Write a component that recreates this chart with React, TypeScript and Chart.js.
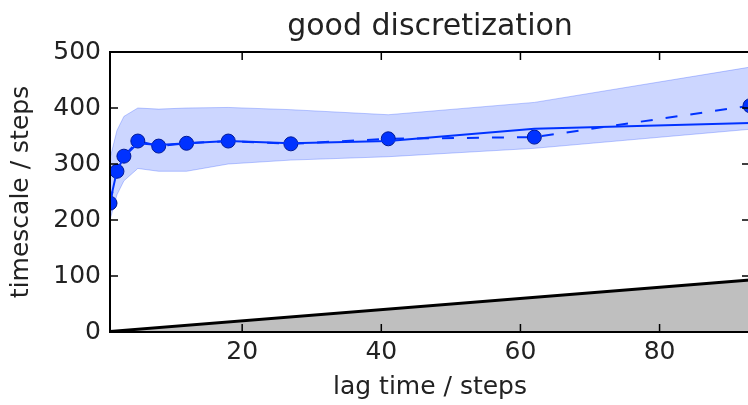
import React, { useEffect, useRef } from "react";
import { Chart, registerables } from "chart.js";

Chart.register(...registerables);

// ---- data ----
const lagTimes = [1, 2, 3, 5, 8, 12, 18, 27, 41, 62, 93];
const sampleTimescales = [230, 287, 314, 341, 332, 337, 341, 336, 345, 348, 404];
const mlTimescales = [232, 288, 313, 337, 334, 337, 341, 337, 341, 363, 373];
const confUpper = [310, 360, 385, 400, 398, 400, 401, 397, 388, 410, 473];
const confLower = [200, 245, 270, 292, 287, 287, 300, 307, 313, 328, 362];
const identityX = [1, 93];
const identityY = [1, 93];
const xTickValues = [20, 40, 60, 80];
const yTickValues = [0, 100, 200, 300, 400, 500];

const titleText = "good discretization";
const xLabel = "lag time / steps";
const yLabel = "timescale / steps";

const BLUE = "#0033ff";
const FONT = "DejaVu Sans";
const TEXT = "#222222";

const pts = (xs: number[], ys: number[]) => xs.map((x, i) => ({ x, y: ys[i] }));

const framePlugin = {
  id: "frame",
  afterDatasetsDraw(chart: any) {
    const { ctx, chartArea: a, scales } = chart;
    ctx.save();
    ctx.strokeStyle = "#000";
    ctx.lineWidth = 1.5;
    ctx.beginPath();
    for (const v of xTickValues) {
      const px = scales.x.getPixelForValue(v);
      ctx.moveTo(px, a.bottom);
      ctx.lineTo(px, a.bottom - 8);
      ctx.moveTo(px, a.top);
      ctx.lineTo(px, a.top + 8);
    }
    for (const v of yTickValues) {
      const py = scales.y.getPixelForValue(v);
      ctx.moveTo(a.left, py);
      ctx.lineTo(a.left + 8, py);
      ctx.moveTo(a.right, py);
      ctx.lineTo(a.right - 8, py);
    }
    ctx.stroke();
    ctx.lineWidth = 2;
    ctx.strokeRect(a.left, a.top, a.right - a.left, a.bottom - a.top);
    ctx.restore();
  },
};

export default function App() {
  const ref = useRef<HTMLCanvasElement | null>(null);

  useEffect(() => {
    if (!ref.current) return;
    const chart = new Chart(ref.current, {
      type: "line",
      data: {
        datasets: [
          {
            label: "lag time",
            data: pts(identityX, identityY),
            borderColor: "#000000",
            borderWidth: 3,
            backgroundColor: "#bfbfbf",
            fill: "origin",
            pointRadius: 0,
          },
          {
            label: "lower",
            data: pts(lagTimes, confLower),
            borderColor: "rgba(0,51,255,0.25)",
            borderWidth: 1,
            fill: false,
            pointRadius: 0,
          },
          {
            label: "upper",
            data: pts(lagTimes, confUpper),
            borderColor: "rgba(0,51,255,0.25)",
            borderWidth: 1,
            backgroundColor: "rgba(0,51,255,0.2)",
            fill: "-1",
            pointRadius: 0,
          },
          {
            label: "ML",
            data: pts(lagTimes, mlTimescales),
            borderColor: BLUE,
            borderWidth: 2,
            fill: false,
            pointRadius: 0,
          },
          {
            label: "sample",
            data: pts(lagTimes, sampleTimescales),
            borderColor: BLUE,
            borderWidth: 2,
            borderDash: [12, 13],
            fill: false,
            pointRadius: 7,
            pointBackgroundColor: BLUE,
            pointBorderColor: "#00137a",
            pointBorderWidth: 1,
            clip: 0,
          } as any,
        ],
      },
      options: {
        animation: false,
        responsive: false,
        devicePixelRatio: 1,
        layout: { padding: { left: 0, right: 2, top: 0, bottom: 0 } },
        plugins: {
          legend: { display: false },
          tooltip: { enabled: false },
          title: {
            display: true,
            text: titleText,
            fullSize: false,
            color: TEXT,
            font: { family: FONT, size: 30, weight: "normal" },
            padding: { top: 9.6, bottom: 6.4 },
          },
        },
        scales: {
          x: {
            type: "linear",
            min: 1,
            max: 93,
            afterBuildTicks: (s: any) => {
              s.ticks = xTickValues.map((v) => ({ value: v }));
            },
            afterFit: (s: any) => {
              s.height = 73;
            },
            grid: { display: false, drawTicks: false },
            border: { display: false },
            ticks: {
              autoSkip: false,
              maxRotation: 0,
              padding: 5,
              color: TEXT,
              font: { family: FONT, size: 25 },
            },
            title: {
              display: true,
              text: xLabel,
              color: TEXT,
              font: { family: FONT, size: 25 },
              padding: { top: 0, bottom: 2.6 },
            },
          },
          y: {
            type: "linear",
            min: 0,
            max: 500,
            afterBuildTicks: (s: any) => {
              s.ticks = yTickValues.map((v) => ({ value: v }));
            },
            afterFit: (s: any) => {
              s.width = 110;
            },
            grid: { display: false, drawTicks: false },
            border: { display: false },
            ticks: {
              autoSkip: false,
              padding: 9,
              color: TEXT,
              font: { family: FONT, size: 25 },
            },
            title: {
              display: true,
              text: yLabel,
              color: TEXT,
              font: { family: FONT, size: 25 },
              padding: { top: 6.4, bottom: 0 },
            },
          },
        },
      },
      plugins: [framePlugin],
    });
    return () => chart.destroy();
  }, []);

  return (
    <div
      style={{
        position: "fixed",
        left: 0,
        top: 0,
        width: 748,
        height: 405,
        overflow: "hidden",
        background: "#fff",
      }}
    >
      <canvas ref={ref} width={758} height={405} style={{ display: "block", width: 758, height: 405 }} />
    </div>
  );
}
